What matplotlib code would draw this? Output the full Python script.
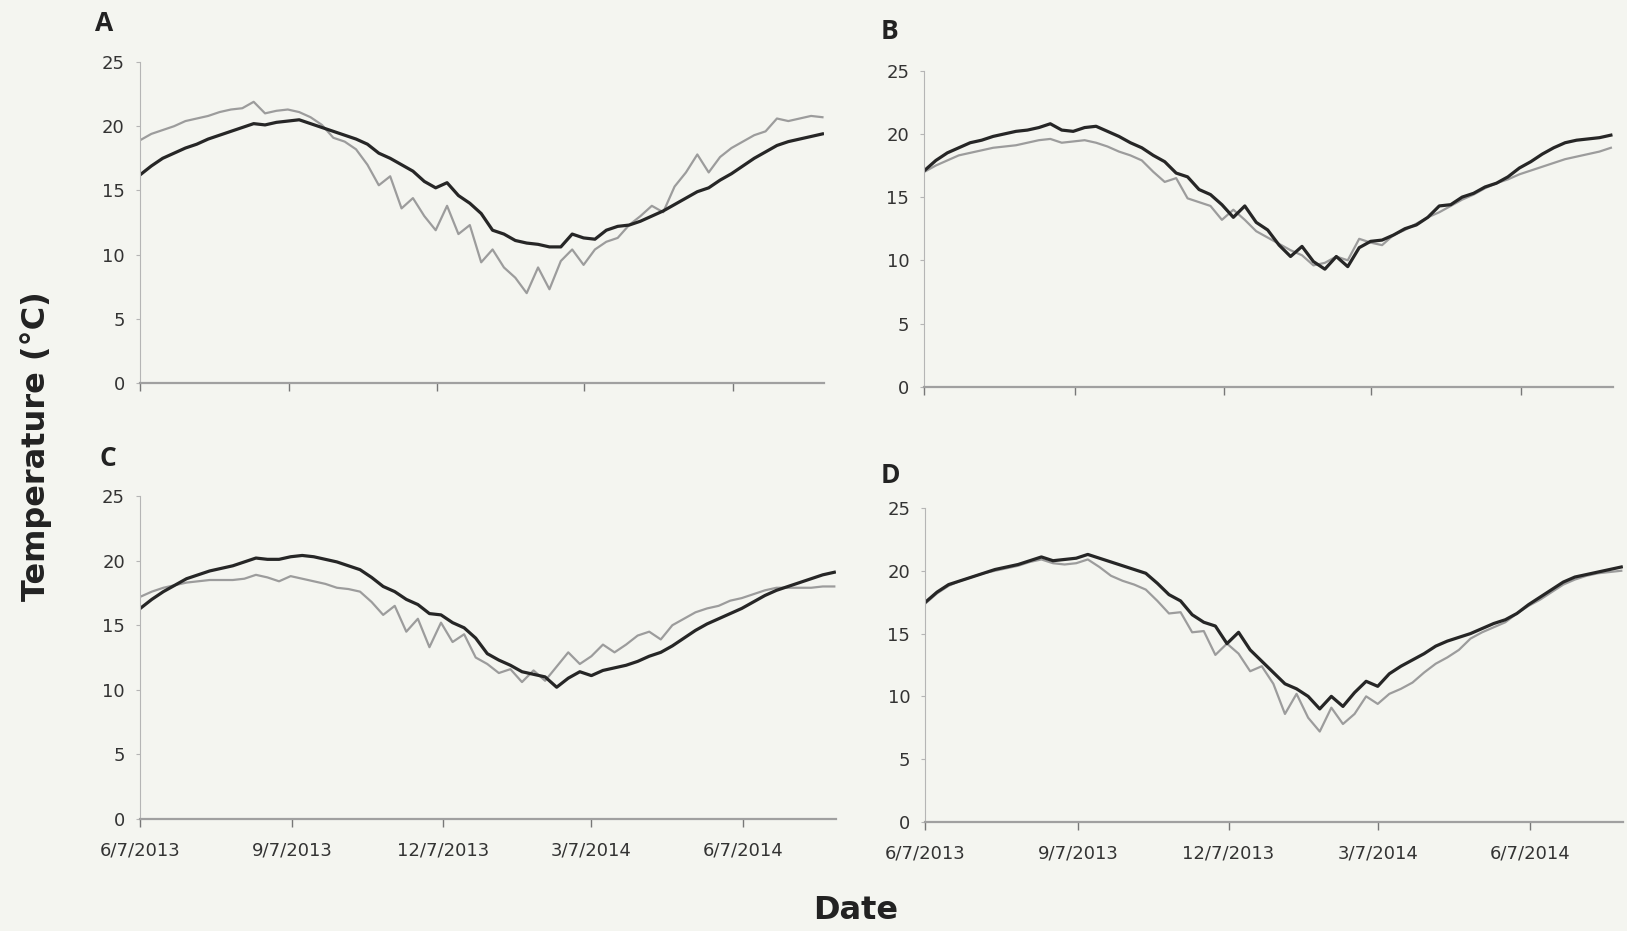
import matplotlib
matplotlib.use("Agg")
import matplotlib.pyplot as plt
import pandas as pd

# weekly samples starting 6/7/2013
dates = pd.date_range("2013-06-07", periods=61, freq="7D")

# Panel A
a_black = [16.2, 16.9, 17.5, 17.9, 18.3, 18.6, 19.0, 19.3, 19.6, 19.9, 20.2, 20.1, 20.3, 20.4, 20.5, 20.2,
           19.9, 19.6, 19.3, 19.0, 18.6, 17.9, 17.5, 17.0, 16.5, 15.7, 15.2, 15.6, 14.6, 14.0, 13.2, 11.9,
           11.6, 11.1, 10.9, 10.8, 10.6, 10.6, 11.6, 11.3, 11.2, 11.9, 12.2, 12.3, 12.6, 13.0, 13.4, 13.9,
           14.4, 14.9, 15.2, 15.8, 16.3, 16.9, 17.5, 18.0, 18.5, 18.8, 19.0, 19.2, 19.4]
a_gray = [18.9, 19.4, 19.7, 20.0, 20.4, 20.6, 20.8, 21.1, 21.3, 21.4, 21.9, 21.0, 21.2, 21.3, 21.1, 20.7,
          20.1, 19.1, 18.8, 18.2, 17.0, 15.4, 16.1, 13.6, 14.4, 13.0, 11.9, 13.8, 11.6, 12.3, 9.4, 10.4,
          9.0, 8.2, 7.0, 9.0, 7.3, 9.5, 10.4, 9.2, 10.4, 11.0, 11.3, 12.3, 13.0, 13.8, 13.3, 15.3,
          16.4, 17.8, 16.4, 17.6, 18.3, 18.8, 19.3, 19.6, 20.6, 20.4, 20.6, 20.8, 20.7]

# Panel B
b_black = [17.1, 17.9, 18.5, 18.9, 19.3, 19.5, 19.8, 20.0, 20.2, 20.3, 20.5, 20.8, 20.3, 20.2, 20.5, 20.6,
           20.2, 19.8, 19.3, 18.9, 18.3, 17.8, 16.9, 16.6, 15.6, 15.2, 14.4, 13.4, 14.3, 13.0, 12.4, 11.2,
           10.3, 11.1, 9.9, 9.3, 10.3, 9.5, 11.0, 11.5, 11.6, 12.0, 12.5, 12.8, 13.4, 14.3, 14.4, 15.0,
           15.3, 15.8, 16.1, 16.6, 17.3, 17.8, 18.4, 18.9, 19.3, 19.5, 19.6, 19.7, 19.9]
b_gray = [17.0, 17.5, 17.9, 18.3, 18.5, 18.7, 18.9, 19.0, 19.1, 19.3, 19.5, 19.6, 19.3, 19.4, 19.5, 19.3,
          19.0, 18.6, 18.3, 17.9, 17.0, 16.2, 16.5, 14.9, 14.6, 14.3, 13.2, 14.0, 13.2, 12.3, 11.8, 11.3,
          10.8, 10.4, 9.6, 9.8, 10.3, 10.0, 11.7, 11.4, 11.2, 12.0, 12.4, 12.9, 13.4, 13.8, 14.3, 14.8,
          15.2, 15.7, 16.1, 16.4, 16.8, 17.1, 17.4, 17.7, 18.0, 18.2, 18.4, 18.6, 18.9]

# Panel C
c_black = [16.3, 17.0, 17.6, 18.1, 18.6, 18.9, 19.2, 19.4, 19.6, 19.9, 20.2, 20.1, 20.1, 20.3, 20.4, 20.3,
           20.1, 19.9, 19.6, 19.3, 18.7, 18.0, 17.6, 17.0, 16.6, 15.9, 15.8, 15.2, 14.8, 14.0, 12.8, 12.3,
           11.9, 11.4, 11.2, 11.0, 10.2, 10.9, 11.4, 11.1, 11.5, 11.7, 11.9, 12.2, 12.6, 12.9, 13.4, 14.0,
           14.6, 15.1, 15.5, 15.9, 16.3, 16.8, 17.3, 17.7, 18.0, 18.3, 18.6, 18.9, 19.1]
c_gray = [17.2, 17.6, 17.9, 18.1, 18.3, 18.4, 18.5, 18.5, 18.5, 18.6, 18.9, 18.7, 18.4, 18.8, 18.6, 18.4,
          18.2, 17.9, 17.8, 17.6, 16.8, 15.8, 16.5, 14.5, 15.5, 13.3, 15.2, 13.7, 14.3, 12.5, 12.0, 11.3,
          11.6, 10.6, 11.5, 10.7, 11.8, 12.9, 12.0, 12.6, 13.5, 12.9, 13.5, 14.2, 14.5, 13.9, 15.0, 15.5,
          16.0, 16.3, 16.5, 16.9, 17.1, 17.4, 17.7, 17.9, 17.9, 17.9, 17.9, 18.0, 18.0]

# Panel D
d_black = [17.5, 18.3, 18.9, 19.2, 19.5, 19.8, 20.1, 20.3, 20.5, 20.8, 21.1, 20.8, 20.9, 21.0, 21.3, 21.0,
           20.7, 20.4, 20.1, 19.8, 19.0, 18.1, 17.6, 16.5, 15.9, 15.6, 14.2, 15.1, 13.7, 12.8, 11.9, 11.0,
           10.6, 10.0, 9.0, 10.0, 9.2, 10.3, 11.2, 10.8, 11.8, 12.4, 12.9, 13.4, 14.0, 14.4, 14.7, 15.0,
           15.4, 15.8, 16.1, 16.6, 17.3, 17.9, 18.5, 19.1, 19.5, 19.7, 19.9, 20.1, 20.3]
d_gray = [17.4, 18.2, 18.8, 19.2, 19.5, 19.8, 20.0, 20.2, 20.4, 20.7, 20.9, 20.6, 20.5, 20.6, 20.9, 20.3,
          19.6, 19.2, 18.9, 18.5, 17.6, 16.6, 16.7, 15.1, 15.2, 13.3, 14.2, 13.4, 12.0, 12.4, 11.0, 8.6,
          10.2, 8.3, 7.2, 9.1, 7.8, 8.6, 10.0, 9.4, 10.2, 10.6, 11.1, 11.9, 12.6, 13.1, 13.7, 14.6,
          15.1, 15.5, 15.9, 16.6, 17.2, 17.7, 18.3, 18.9, 19.3, 19.6, 19.8, 19.9, 20.0]

tick_dates = pd.to_datetime(["2013-06-07", "2013-09-07", "2013-12-07", "2014-03-07", "2014-06-07"])
tick_labels = ["6/7/2013", "9/7/2013", "12/7/2013", "3/7/2014", "6/7/2014"]

panels = [
    ("A", a_black, a_gray, [0.0860, 0.5886, 0.4205, 0.3448], (0.064, 0.975), False),
    ("B", b_black, b_gray, [0.5682, 0.5846, 0.4229, 0.3395], (0.547, 0.966), False),
    ("C", c_black, c_gray, [0.0862, 0.1203, 0.4276, 0.3469], (0.066, 0.507), True),
    ("D", d_black, d_gray, [0.5688, 0.1171, 0.4287, 0.3373], (0.547, 0.489), True),
]

bg = "#f4f5f0"
plt.rcParams["font.family"] = ["Liberation Sans Narrow", "DejaVu Sans"]

fig = plt.figure(figsize=(16.27, 9.31), dpi=100, facecolor=bg)

for letter, black, gray, rect, lpos, show_dates in panels:
    ax = fig.add_axes(rect)
    ax.set_facecolor(bg)
    ax.plot(dates, gray, color="#9c9c9c", lw=1.6)
    ax.plot(dates, black, color="#262626", lw=2.3)
    ax.set_ylim(0, 25)
    ax.set_yticks([0, 5, 10, 15, 20, 25])
    ax.set_xlim(dates[0], dates[-1] + pd.Timedelta(days=1))
    ax.set_xticks(tick_dates)
    if show_dates:
        ax.set_xticklabels(tick_labels)
    else:
        ax.set_xticklabels([])
    for s in ["top", "right"]:
        ax.spines[s].set_visible(False)
    ax.spines["left"].set_color("#b5b5b5")
    ax.spines["left"].set_linewidth(0.8)
    ax.spines["bottom"].set_color("#a0a0a0")
    ax.spines["bottom"].set_linewidth(1.6)
    ax.tick_params(axis="y", length=3, color="#b5b5b5", labelsize=13, pad=8, labelcolor="#333333")
    ax.tick_params(axis="x", length=6, width=1, color="#777777", labelsize=13, pad=10,
                   labelcolor="#333333")
    fig.text(lpos[0], lpos[1], letter, fontsize=19, fontweight="bold", family="Open Sans",
             ha="center", va="center", color="#222222")

fig.text(0.022, 0.521, "Temperature (\u00b0C)", rotation=90, fontsize=23, fontweight="bold",
         family="DejaVu Sans", ha="center", va="center", color="#222222")
fig.text(0.526, 0.0215, "Date", fontsize=23, fontweight="bold", family="DejaVu Sans",
         ha="center", va="center", color="#222222")

fig.savefig("out.png", dpi=100, facecolor=bg)
